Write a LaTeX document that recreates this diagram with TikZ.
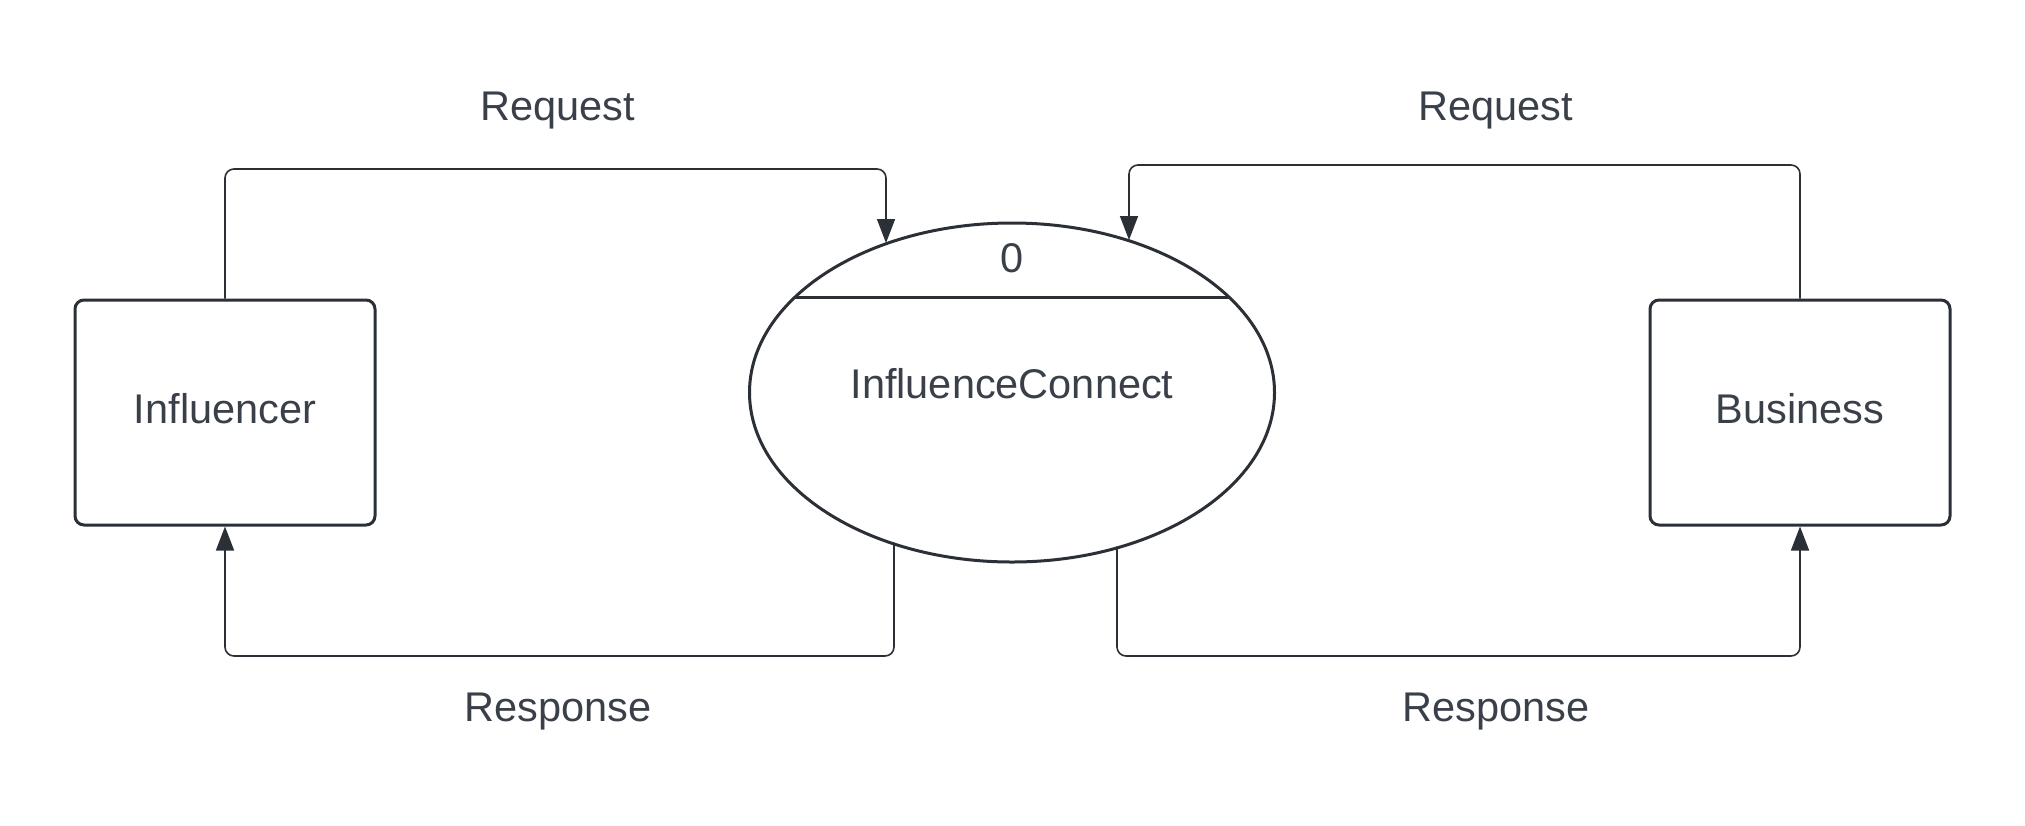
\documentclass[tikz,border=0pt]{standalone}
\usepackage{fontspec}
\setmainfont{Liberation Sans}
\usetikzlibrary{arrows.meta,shapes.geometric,calc}
\definecolor{ink}{HTML}{2B2F36}
\definecolor{txt}{HTML}{3A4049}
\begin{document}
\begin{tikzpicture}[x=1pt,y=-1pt]
\useasboundingbox[fill=white] (0,0) rectangle (2025,825);
\tikzset{
 entity/.style={draw=ink, line width=3pt, rounded corners=9pt, minimum width=300pt, minimum height=225pt, inner sep=0pt},
 proc/.style={draw=ink, line width=3pt, ellipse, minimum width=525pt, minimum height=339pt, inner sep=0pt},
 flow/.style={draw=ink, line width=1.6pt, rounded corners=9pt, -{Triangle[length=24pt,width=18pt]}},
 lbl/.style={font=\fontsize{41.5}{48}\selectfont, text=txt}
}
\node[entity] (inf) at (225,412.5) {};
\node[entity] (bus) at (1800,412.5) {};
\node[lbl] (inft) at (225,409) {Influencer};
\node[lbl] (bust) at (1800,409) {Business};
\node[proc] (ic) at (1012,392.5) {};
\node[lbl] (num) at (1012,258) {0};
\node[lbl] (name) at (1012,384) {InfluenceConnect};
\coordinate (dl) at ($(ic.center)+(-217,-95)$);
\coordinate (dr) at ($(ic.center)+(217,-95)$);
\draw[ink, line width=3pt] (dl) -- (dr);
\coordinate (t1) at ($(ic.center)+(-126,-149.5)$);
\coordinate (t2) at ($(ic.center)+(117,-152.5)$);
\coordinate (s1) at ($(ic.center)+(-118,150)$);
\coordinate (s2) at ($(ic.center)+(105,154)$);
\draw[flow] (inf.north) -- (inf.north |- 0,169) -| (t1);
\draw[flow] (bus.north) -- (bus.north |- 0,165) -| (t2);
\draw[flow] (s1) -- (s1 |- 0,656) -| (inf.south);
\draw[flow] (s2) -- (s2 |- 0,656) -| (bus.south);
\node[lbl] (rq1) at (558,111) {Request};
\node[lbl] (rq2) at (1496,111) {Request};
\node[lbl] (rs1) at (558,712) {Response};
\node[lbl] (rs2) at (1496,712) {Response};
\end{tikzpicture}
\end{document}
